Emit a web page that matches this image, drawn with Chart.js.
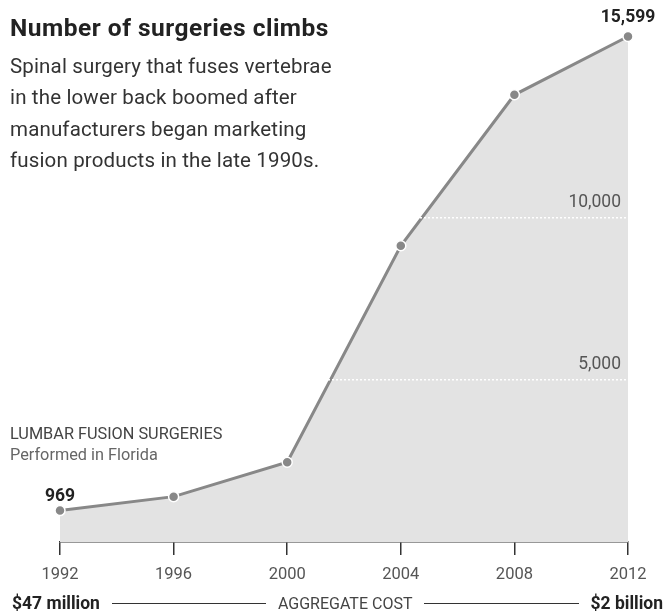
<!DOCTYPE html>
<html>
<head>
<meta charset="utf-8">
<script src="https://cdn.jsdelivr.net/npm/chart.js@4/dist/chart.umd.min.js"></script>
<style>
  body { margin: 0; background: #fff; }
  #wrap { position: relative; width: 666px; height: 614px; overflow: hidden; font-family: Roboto, sans-serif; }
  #chart { position: absolute; left: 0; top: 0; }
  .title { position: absolute; left: 10px; top: 13px; font-size: 24.5px; line-height: 30px; font-weight: 700; color: #222; letter-spacing: 0.5px; }
  .dek { position: absolute; left: 10px; top: 51px; font-size: 20.5px; line-height: 31.3px; color: #333; letter-spacing: 0.15px; }
  .note { position: absolute; left: 10px; top: 423px; font-size: 16.3px; line-height: 21px; color: #444; }
  .note span { color: #666; }
  .cost { position: absolute; left: 12px; right: 3px; top: 593px; display: flex; align-items: center; font-size: 16px; color: #444; }
  .cost b { color: #222; font-size: 17.5px; }
  .cost i { flex: 1; height: 1px; background: #333; margin: 0 12px; }
</style>
</head>
<body>
<div id="wrap">
  <canvas id="chart" width="666" height="614"></canvas>
  <div class="title">Number of surgeries climbs</div>
  <div class="dek">Spinal surgery that fuses vertebrae<br>in the lower back boomed after<br>manufacturers began marketing<br>fusion products in the late 1990s.</div>
  <div class="note">LUMBAR FUSION SURGERIES<br><span>Performed in Florida</span></div>
  <div class="cost"><b id="costLo"></b><i></i>AGGREGATE COST<i></i><b id="costHi"></b></div>
</div>
<script>
// values
const years = ['1992', '1996', '2000', '2004', '2008', '2012'];
const surgeries = [969, 1400, 2460, 9140, 13800, 15599];
const yTicks = [5000, 10000];
const costLabels = ['$47 million', '$2 billion'];

document.getElementById('costLo').textContent = costLabels[0];
document.getElementById('costHi').textContent = costLabels[1];

// bold value labels over the first and last point
const endLabels = {
  id: 'endLabels',
  afterDatasetsDraw(chart) {
    const ctx = chart.ctx;
    const pts = chart.getDatasetMeta(0).data;
    ctx.save();
    ctx.font = 'bold 17.5px Roboto, sans-serif';
    ctx.fillStyle = '#222';
    ctx.textAlign = 'center';
    ctx.textBaseline = 'middle';
    [0, pts.length - 1].forEach(i => {
      ctx.fillText(surgeries[i].toLocaleString('en-US'), pts[i].x, pts[i].y - (i === 0 ? 14 : 19));
    });
    ctx.restore();
  }
};

new Chart(document.getElementById('chart'), {
  type: 'line',
  data: {
    labels: years,
    datasets: [{
      data: surgeries,
      borderColor: '#888',
      borderWidth: 3,
      backgroundColor: '#e3e3e3',
      fill: 'origin',
      tension: 0,
      clip: false,
      pointRadius: 5,
      pointBackgroundColor: '#888',
      pointBorderColor: '#fff',
      pointBorderWidth: 1.5
    }]
  },
  options: {
    responsive: false,
    animation: false,
    layout: { padding: { left: 60, right: 38, top: 23.5, bottom: 0 } },
    plugins: { legend: { display: false }, tooltip: { enabled: false } },
    scales: {
      x: {
        offset: false,
        afterFit: s => { s.height = 72; },
        border: { display: true, color: '#333', width: 1.5 },
        grid: { offset: false, drawOnChartArea: false, drawTicks: true, tickLength: 13, color: '#333', lineWidth: 1.5 },
        ticks: { color: '#555', font: { family: 'Roboto', size: 16.5 }, padding: 10, maxRotation: 0 }
      },
      y: {
        position: 'right',
        min: 0,
        max: 16000,
        afterFit: s => { s.width = 0; },
        afterBuildTicks: s => { s.ticks = yTicks.map(v => ({ value: v })); },
        border: { display: false, dash: [2, 2] },
        grid: { color: '#fff', lineWidth: 1.5, drawTicks: false, z: 1 },
        ticks: {
          z: 1,
          mirror: true,
          padding: -7,
          labelOffset: -15,
          color: '#555',
          font: { family: 'Roboto', size: 17.5 },
          callback: v => v.toLocaleString('en-US')
        }
      }
    }
  },
  plugins: [endLabels]
});
</script>
</body>
</html>
